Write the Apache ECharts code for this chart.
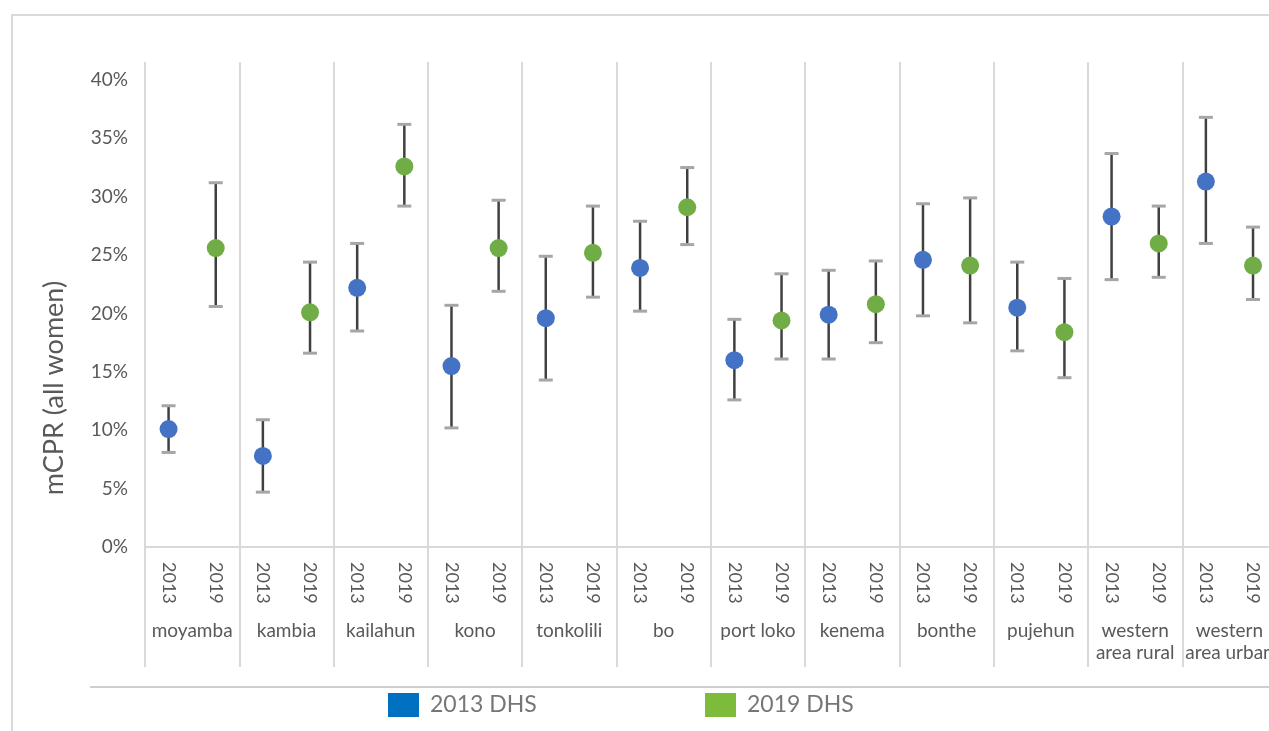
<!DOCTYPE html>
<html>
<head>
<meta charset="utf-8">
<script src="https://cdn.jsdelivr.net/npm/echarts@6/dist/echarts.min.js"></script>
<style>
  html, body { margin: 0; padding: 0; background: #ffffff; }
  #chart { width: 1269px; height: 731px; }
</style>
</head>
<body>
<div id="chart"></div>
<script>
// Districts of Sierra Leone, mCPR (all women) from the 2013 and 2019 DHS with 95% CIs (percent)
const districts = ['moyamba', 'kambia', 'kailahun', 'kono', 'tonkolili', 'bo', 'port loko',
  'kenema', 'bonthe', 'pujehun', 'western\narea rural', 'western\narea urban'];
const surveyYears = ['2013', '2019'];

const mcpr2013 = [10.1, 7.8, 22.2, 15.5, 19.6, 23.9, 16.0, 19.9, 24.6, 20.5, 28.3, 31.3];
const low2013  = [8.1, 4.7, 18.5, 10.2, 14.3, 20.2, 12.6, 16.1, 19.8, 16.8, 22.9, 26.0];
const high2013 = [12.1, 10.9, 26.0, 20.7, 24.9, 27.9, 19.5, 23.7, 29.4, 24.4, 33.7, 36.8];

const mcpr2019 = [25.6, 20.1, 32.6, 25.6, 25.2, 29.1, 19.4, 20.8, 24.1, 18.4, 26.0, 24.1];
const low2019  = [20.6, 16.6, 29.2, 21.9, 21.4, 25.9, 16.1, 17.5, 19.2, 14.5, 23.1, 21.2];
const high2019 = [31.2, 24.4, 36.2, 29.7, 29.2, 32.5, 23.4, 24.5, 29.9, 23.0, 29.2, 27.4];

const yTickStep = 5;

// One year slot per survey inside each district band
const yearCats = districts.flatMap(() => surveyYears);

const labelGray = '#595959';
const lineGray = '#D9D9D9';

function errorBar(params, api) {
  const x = api.value(0);
  const lo = api.coord([x, api.value(1)]);
  const hi = api.coord([x, api.value(2)]);
  const cap = 7;
  const capStyle = { stroke: '#A6A6A6', lineWidth: 3 };
  return {
    type: 'group',
    children: [
      { type: 'line', shape: { x1: lo[0], y1: lo[1], x2: hi[0], y2: hi[1] },
        style: { stroke: '#404040', lineWidth: 2.5 } },
      { type: 'line', shape: { x1: lo[0] - cap, y1: lo[1], x2: lo[0] + cap, y2: lo[1] }, style: capStyle },
      { type: 'line', shape: { x1: hi[0] - cap, y1: hi[1], x2: hi[0] + cap, y2: hi[1] }, style: capStyle }
    ]
  };
}

const chart = echarts.init(document.getElementById('chart'), null, { renderer: 'canvas' });

const legendCommon = {
  top: 688,
  orient: 'horizontal',
  itemWidth: 31,
  itemHeight: 24,
  icon: 'rect',
  selectedMode: false,
  textStyle: { fontFamily: 'Lato', fontSize: 23, color: '#767676', padding: [0, 0, 0, 6] }
};

chart.setOption({
  backgroundColor: '#ffffff',
  animation: false,
  textStyle: { fontFamily: 'Lato' },
  // the twelfth district band runs a little past the right edge of the canvas
  grid: { left: 145, width: 1131.6, top: 62, bottom: 184, containLabel: false, outerBoundsMode: 'none' },
  legend: [
    Object.assign({ left: 383, data: [{ name: '2013 DHS', itemStyle: { color: '#0070C0', opacity: 1 } }] }, legendCommon),
    Object.assign({ left: 700, data: [{ name: '2019 DHS', itemStyle: { color: '#7DBB3A', opacity: 1 } }] }, legendCommon)
  ],
  xAxis: [
    {
      type: 'category',
      data: yearCats,
      boundaryGap: true,
      axisLine: { show: true, lineStyle: { color: lineGray, width: 2 } },
      axisTick: { show: false },
      splitLine: { show: false },
      axisLabel: { interval: 0, rotate: -90, margin: 15, fontFamily: 'Lato', fontSize: 18, color: labelGray }
    },
    {
      type: 'category',
      data: districts,
      position: 'bottom',
      boundaryGap: true,
      axisLine: { show: false },
      axisTick: { show: true, interval: 0, length: 120, lineStyle: { color: lineGray, width: 2 } },
      splitLine: { show: true, interval: 0, lineStyle: { color: lineGray, width: 2 } },
      axisLabel: { interval: 0, margin: 73, fontFamily: 'Lato', fontSize: 19, lineHeight: 22, color: labelGray }
    }
  ],
  yAxis: {
    type: 'value',
    min: 0,
    max: 41.54,
    interval: yTickStep,
    axisLine: { show: false },
    axisTick: { show: false },
    splitLine: { show: false },
    axisLabel: {
      margin: 17,
      fontFamily: 'Lato',
      fontSize: 19,
      color: labelGray,
      formatter: v => (Math.abs(v % yTickStep) < 1e-9 ? v + '%' : '')
    }
  },
  graphic: [
    { type: 'polyline', silent: true, shape: { points: [[12, 740], [12, 15], [1280, 15]] },
      style: { stroke: lineGray, lineWidth: 2, fill: null } },
    { type: 'line', silent: true, shape: { x1: 90, y1: 687, x2: 1280, y2: 687 },
      style: { stroke: '#BFBFBF', lineWidth: 1.5 } },
    { type: 'text', silent: true, x: 54, y: 388, rotation: Math.PI / 2,
      style: { text: 'mCPR (all women)', fontFamily: 'Lato', fontSize: 27, fill: labelGray,
               align: 'center', verticalAlign: 'middle' } }
  ],
  series: [
    {
      type: 'custom',
      name: 'ci2013',
      renderItem: errorBar,
      encode: { x: 0, y: [1, 2] },
      data: districts.map((d, i) => [2 * i, low2013[i], high2013[i]]),
      z: 2,
      silent: true
    },
    {
      type: 'custom',
      name: 'ci2019',
      renderItem: errorBar,
      encode: { x: 0, y: [1, 2] },
      data: districts.map((d, i) => [2 * i + 1, low2019[i], high2019[i]]),
      z: 2,
      silent: true
    },
    {
      type: 'scatter',
      name: '2013 DHS',
      symbol: 'circle',
      symbolSize: 18,
      itemStyle: { color: '#4472C4', opacity: 1 },
      data: districts.map((d, i) => [2 * i, mcpr2013[i]]),
      z: 3
    },
    {
      type: 'scatter',
      name: '2019 DHS',
      symbol: 'circle',
      symbolSize: 18,
      itemStyle: { color: '#70AD47', opacity: 1 },
      data: districts.map((d, i) => [2 * i + 1, mcpr2019[i]]),
      z: 3
    }
  ]
});
</script>
</body>
</html>
